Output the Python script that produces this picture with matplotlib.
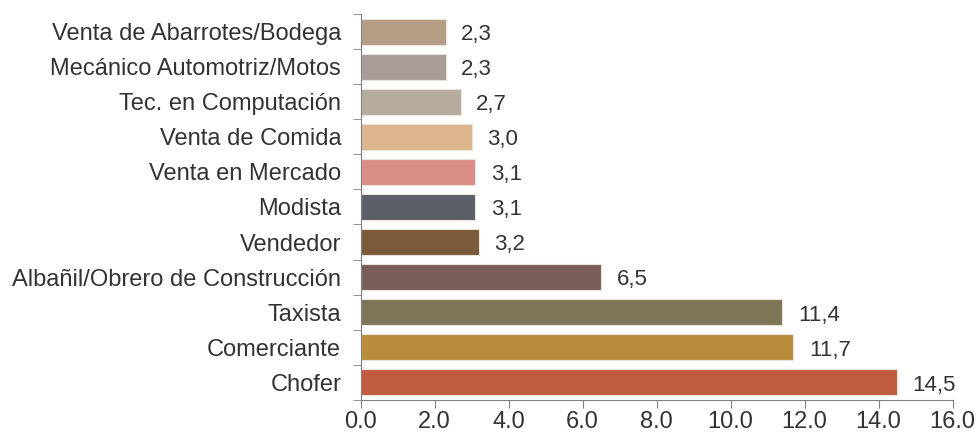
import matplotlib.pyplot as plt
import numpy as np

plt.rcParams['font.family'] = ['Liberation Sans', 'DejaVu Sans']

# ocupaciones de abajo hacia arriba
ocupaciones = ['Chofer', 'Comerciante', 'Taxista', 'Albañil/Obrero de Construcción',
               'Vendedor', 'Modista', 'Venta en Mercado', 'Venta de Comida',
               'Tec. en Computación', 'Mecánico Automotriz/Motos',
               'Venta de Abarrotes/Bodega']
porcentajes = [14.5, 11.7, 11.4, 6.5, 3.2, 3.1, 3.1, 3.0, 2.7, 2.3, 2.3]
colores = ['#c05b3f', '#b98c3b', '#7e7559', '#7b5e5b', '#7a5a38', '#5b6068',
           '#d98d86', '#dbb58c', '#b6ac9e', '#a99c98', '#b69d86']
ticks_x = np.arange(0, 16.1, 2)

fig = plt.figure(figsize=(9.8, 4.38), dpi=100)
ax = fig.add_axes([0.368, 0.087, 0.604, 0.881])

y = np.arange(len(ocupaciones))
ax.barh(y, porcentajes, height=0.74, color=colores, edgecolor='#e8e2da', linewidth=0.8)

for yi, v in zip(y, porcentajes):
    ax.text(v + 0.42, yi - 0.08, f'{v:.1f}'.replace('.', ','), va='center', ha='left',
            fontsize=16, color='#333333')

ax.set_ylim(-0.5, len(ocupaciones) - 0.5)
ax.set_xlim(0, 16)
ax.set_yticks(y)
ax.set_yticklabels(ocupaciones, fontsize=17, color='#333333')
ax.set_yticks(np.arange(-0.5, len(ocupaciones)), minor=True)
ax.tick_params(axis='y', which='major', length=0, pad=14)
ax.tick_params(axis='y', which='minor', length=6, color='#808080')
ax.set_xticks(ticks_x)
ax.set_xticklabels([f'{t:.1f}' for t in ticks_x], fontsize=17, color='#333333')
ax.tick_params(axis='x', length=6, color='#808080', pad=2)

for s in ['top', 'right']:
    ax.spines[s].set_visible(False)
for s in ['left', 'bottom']:
    ax.spines[s].set_color('#808080')

fig.savefig('out.png', dpi=100)
